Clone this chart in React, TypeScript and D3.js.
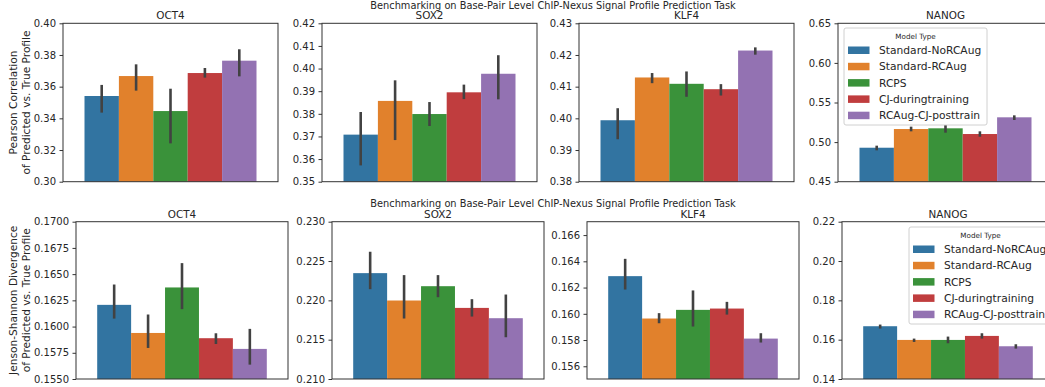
import React, { useEffect, useRef } from "react";
import * as d3 from "d3";

// model types (hue) and their colours
const models = [
  "Standard-NoRCAug",
  "Standard-RCAug",
  "RCPS",
  "CJ-duringtraining",
  "RCAug-CJ-posttrain",
];
const colors = ["#3274a1", "#e1812c", "#3a923a", "#c03d3e", "#9372b2"];
const targets = ["OCT4", "SOX2", "KLF4", "NANOG"];

// Pearson correlation (top row): mean, ci low, ci high
const pearsonMean = [
  [0.3541, 0.3667, 0.3446, 0.3686, 0.3764],
  [0.3708, 0.3857, 0.3799, 0.3895, 0.3977],
  [0.3994, 0.4129, 0.4109, 0.4092, 0.4214],
  [0.4929, 0.5165, 0.5174, 0.5102, 0.5313],
];
const pearsonLow = [
  [0.3436, 0.3575, 0.3242, 0.3657, 0.3665],
  [0.3572, 0.3684, 0.3746, 0.3865, 0.3864],
  [0.3934, 0.4111, 0.4068, 0.4072, 0.4201],
  [0.4896, 0.5136, 0.5119, 0.5068, 0.5279],
];
const pearsonHigh = [
  [0.3611, 0.3741, 0.3587, 0.3718, 0.3836],
  [0.3808, 0.3948, 0.3852, 0.3929, 0.4059],
  [0.4032, 0.4143, 0.4148, 0.4108, 0.4224],
  [0.4955, 0.5195, 0.5216, 0.5136, 0.5338],
];
const pearsonDomains = [
  [0.3, 0.4],
  [0.35, 0.42],
  [0.38, 0.43],
  [0.45, 0.65],
];
const pearsonTicks = [
  [0.3, 0.32, 0.34, 0.36, 0.38, 0.4],
  [0.35, 0.36, 0.37, 0.38, 0.39, 0.4, 0.41, 0.42],
  [0.38, 0.39, 0.4, 0.41, 0.42, 0.43],
  [0.45, 0.5, 0.55, 0.6, 0.65],
];
const pearsonFormats = [".2f", ".2f", ".2f", ".2f"];

// Jensen-Shannon divergence (bottom row)
const jsdMean = [
  [0.16207, 0.15939, 0.16373, 0.15889, 0.15787],
  [0.22346, 0.21998, 0.2218, 0.21904, 0.21773],
  [0.16287, 0.15964, 0.1603, 0.1604, 0.15811],
  [0.16684, 0.15987, 0.15987, 0.16191, 0.15665],
];
const jsdLow = [
  [0.16076, 0.15796, 0.16166, 0.15834, 0.15637],
  [0.22142, 0.21769, 0.2204, 0.21794, 0.21531],
  [0.16185, 0.15928, 0.15903, 0.15994, 0.15781],
  [0.16565, 0.15885, 0.15817, 0.16055, 0.15546],
];
const jsdHigh = [
  [0.16401, 0.16115, 0.16605, 0.15936, 0.15978],
  [0.22618, 0.22321, 0.22321, 0.22015, 0.22074],
  [0.16419, 0.16005, 0.16178, 0.16091, 0.15852],
  [0.16769, 0.16055, 0.16157, 0.16327, 0.15767],
];
const jsdDomains = [
  [0.155, 0.17],
  [0.21, 0.23],
  [0.15503, 0.16702],
  [0.14, 0.22],
];
const jsdTicks = [
  [0.155, 0.1575, 0.16, 0.1625, 0.165, 0.1675, 0.17],
  [0.21, 0.215, 0.22, 0.225, 0.23],
  [0.156, 0.158, 0.16, 0.162, 0.164, 0.166],
  [0.14, 0.16, 0.18, 0.2, 0.22],
];
const jsdFormats = [".4f", ".3f", ".3f", ".2f"];

const suptitle =
  "Benchmarking on Base-Pair Level ChIP-Nexus Signal Profile Prediction Task";

const FONT = "DejaVu Sans, sans-serif";
const TEXT = "#262626";

const App: React.FC = () => {
  const svgRef = useRef<SVGSVGElement | null>(null);

  useEffect(() => {
    document.body.style.margin = "0";
    const width = 1045;
    const height = 387;
    const svg = d3
      .select(svgRef.current)
      .attr("width", width)
      .attr("height", height)
      .style("display", "block")
      .style("font-family", FONT);
    svg.selectAll("*").remove();

    const rows = [
      {
        lefts: [63, 322, 579, 838],
        w: 215,
        top: 23.3,
        bottom: 181.7,
        mean: pearsonMean,
        low: pearsonLow,
        high: pearsonHigh,
        domains: pearsonDomains,
        ticks: pearsonTicks,
        formats: pearsonFormats,
        ylabel: ["Pearson Correlation", "of Predicted vs. True Profile"],
        titleY: 19.3,
        supY: 9,
        legend: { x: 844, y: 28, w: 143 },
      },
      {
        lefts: [76, 332, 587, 842],
        w: 212,
        top: 221.7,
        bottom: 379,
        mean: jsdMean,
        low: jsdLow,
        high: jsdHigh,
        domains: jsdDomains,
        ticks: jsdTicks,
        formats: jsdFormats,
        ylabel: ["Jenson-Shannon Divergence", "of Predicted vs. True Profile"],
        titleY: 217.6,
        supY: 206.5,
        legend: { x: 909, y: 227, w: 150 },
      },
    ];

    rows.forEach((row) => {
      // super title for the row
      svg
        .append("text")
        .attr("x", 553)
        .attr("y", row.supY)
        .attr("text-anchor", "middle")
        .attr("font-size", "9.8px")
        .attr("fill", TEXT)
        .text(suptitle);

      // y label
      const cy = (row.top + row.bottom) / 2;
      row.ylabel.forEach((line, li) => {
        svg
          .append("text")
          .attr("transform", `translate(${16.5 + li * 13.5},${cy}) rotate(-90)`)
          .attr("text-anchor", "middle")
          .attr("font-size", "10.6px")
          .attr("fill", TEXT)
          .text(line);
      });

      targets.forEach((target, ti) => {
        const left = row.lefts[ti];
        const right = left + row.w;
        const x = d3
          .scaleBand()
          .domain(models)
          .range([left + row.w * 0.1, left + row.w * 0.9])
          .padding(0);
        const y = d3
          .scaleLinear()
          .domain(row.domains[ti])
          .range([row.bottom, row.top]);

        const g = svg.append("g");

        // bars
        g.selectAll("rect.bar")
          .data(row.mean[ti])
          .enter()
          .append("rect")
          .attr("class", "bar")
          .attr("x", (_, i) => x(models[i]) as number)
          .attr("y", (d) => y(d))
          .attr("width", x.bandwidth())
          .attr("height", (d) => row.bottom - y(d))
          .attr("fill", (_, i) => colors[i]);

        // error bars
        g.selectAll("line.err")
          .data(row.mean[ti])
          .enter()
          .append("line")
          .attr("class", "err")
          .attr("x1", (_, i) => (x(models[i]) as number) + x.bandwidth() / 2)
          .attr("x2", (_, i) => (x(models[i]) as number) + x.bandwidth() / 2)
          .attr("y1", (_, i) => y(row.low[ti][i]))
          .attr("y2", (_, i) => y(row.high[ti][i]))
          .attr("stroke", "#424242")
          .attr("stroke-width", 2.6);

        // y axis
        const yAxis = g
          .append("g")
          .attr("transform", `translate(${left},0)`)
          .call(
            d3
              .axisLeft(y)
              .tickValues(row.ticks[ti])
              .tickFormat(d3.format(row.formats[ti]))
              .tickSize(3.5)
              .tickPadding(3.5)
              .tickSizeOuter(0),
          );
        yAxis.select(".domain").remove();
        yAxis.selectAll("line").attr("stroke", "#333");
        yAxis
          .selectAll("text")
          .attr("font-size", "10px")
          .attr("font-family", FONT)
          .attr("fill", TEXT);

        // frame
        g.append("rect")
          .attr("x", left)
          .attr("y", row.top)
          .attr("width", right - left)
          .attr("height", row.bottom - row.top)
          .attr("fill", "none")
          .attr("stroke", "#333")
          .attr("stroke-width", 1);

        // panel title
        g.append("text")
          .attr("x", (left + right) / 2)
          .attr("y", row.titleY)
          .attr("text-anchor", "middle")
          .attr("font-size", "10.4px")
          .attr("fill", TEXT)
          .text(target);
      });

      // legend
      const lg = svg
        .append("g")
        .attr("transform", `translate(${row.legend.x},${row.legend.y})`);
      lg.append("rect")
        .attr("width", row.legend.w)
        .attr("height", 97)
        .attr("rx", 2)
        .attr("fill", "white")
        .attr("fill-opacity", 0.8)
        .attr("stroke", "#d0d0d0");
      lg.append("text")
        .attr("x", 71.5)
        .attr("y", 10.5)
        .attr("text-anchor", "middle")
        .attr("font-size", "7.2px")
        .attr("fill", TEXT)
        .text("Model Type");
      models.forEach((m, i) => {
        const ry = 22 + i * 16.3;
        lg.append("rect")
          .attr("x", 4)
          .attr("y", ry - 3.5)
          .attr("width", 21.5)
          .attr("height", 7.5)
          .attr("fill", colors[i]);
        lg.append("text")
          .attr("x", 35)
          .attr("y", ry + 4)
          .attr("font-size", "10.7px")
          .attr("fill", TEXT)
          .text(m);
      });
    });
  }, []);

  return <svg ref={svgRef}></svg>;
};

export default App;
